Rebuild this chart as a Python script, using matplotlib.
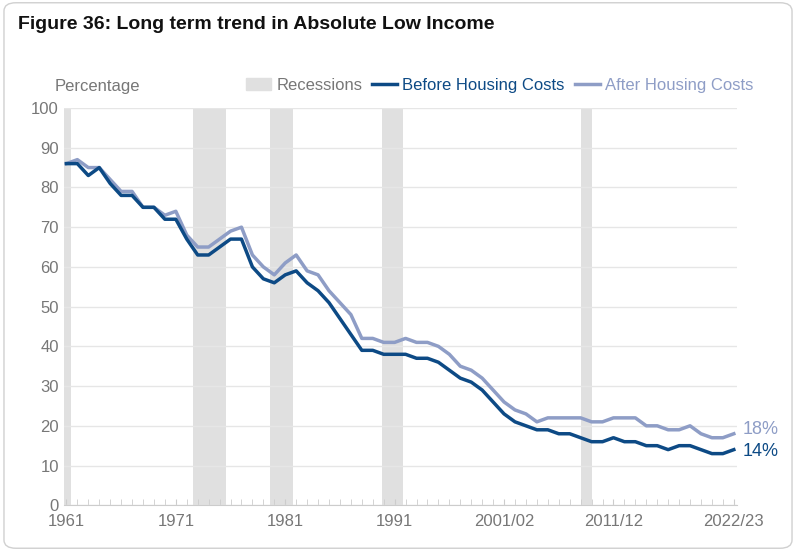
import matplotlib
matplotlib.use("Agg")
import matplotlib.pyplot as plt
from matplotlib.patches import Patch, FancyBboxPatch
from matplotlib.lines import Line2D

plt.rcParams['font.family'] = ['Liberation Sans', 'DejaVu Sans']

bhc = [86,86,83,85,81,78,78,75,75,72,
       72,67,63,63,65,67,67,60,57,56,
       58,59,56,54,51,47,43,39,39,38,
       38,38,37,37,36,34,32,31,29,26,
       23,21,20,19,19,18,18,17,16,16,
       17,16,16,15,15,14,15,15,14,13,
       13,14]
ahc = [86,87,85,85,82,79,79,75,75,73,
       74,68,65,65,67,69,70,63,60,58,
       61,63,59,58,54,51,48,42,42,41,
       41,42,41,41,40,38,35,34,32,29,
       26,24,23,21,22,22,22,22,21,21,
       22,22,22,20,20,19,19,20,18,17,
       17,18]
tick_labels = ["1961","1971","1981","1991","2001/02","2011/12","2022/23"]
tick_pos = [0,10,20,30,40,50,61]
recessions = [(-0.2,0.4),(11.6,14.6),(18.6,20.7),(28.8,30.8),(47.0,48.0)]

BHC_C = "#0d4a85"
AHC_C = "#8e9dc6"
GREY = "#777777"

fig = plt.figure(figsize=(7.96,5.51), dpi=100)
frame = FancyBboxPatch((0.005,0.005),0.99,0.99, boxstyle="round,pad=0,rounding_size=0.015",
                       transform=fig.transFigure, fc="white", ec="#d0d0d0", lw=1, zorder=-10)
fig.patches.append(frame)
ax = fig.add_axes([0.08,0.083,0.846,0.721])
ax.set_facecolor("none")
x = list(range(len(bhc)))
for a,b in recessions:
    ax.axvspan(a,b,color="#e0e0e0",lw=0,zorder=0)
ax.plot(x, ahc, color=AHC_C, lw=2.5, zorder=3)
ax.plot(x, bhc, color=BHC_C, lw=2.5, zorder=4)
ax.set_xlim(-0.25, 61.3)
ax.set_ylim(0,100)
ax.set_yticks(range(0,101,10))
ax.grid(axis="y", color="#e6e6e6", lw=1)
ax.set_axisbelow(True)
ax.set_xticks(tick_pos)
ax.set_xticklabels(tick_labels)
ax.set_xticks(x, minor=True)
ax.tick_params(axis="both", colors=GREY, labelsize=12, length=0)
ax.tick_params(axis="x", which="both", length=4, color="#cccccc", direction="in", pad=6)
for s in ["top","right","left"]:
    ax.spines[s].set_visible(False)
ax.spines["bottom"].set_color("#cccccc")
ax.text(61.8, ahc[-1]+1, f"{ahc[-1]}%", color=AHC_C, fontsize=13, va="center")
ax.text(61.8, bhc[-1]-0.5, f"{bhc[-1]}%", color=BHC_C, fontsize=13, va="center")

fig.text(0.022, 0.955, "Figure 36: Long term trend in Absolute Low Income", fontsize=14,
         fontweight="bold", color="#111111", va="center")
fig.text(0.068, 0.843, "Percentage", fontsize=12, color=GREY, va="center")
handles = [Patch(color="#e0e0e0"), Line2D([],[],color=BHC_C,lw=2.5), Line2D([],[],color=AHC_C,lw=2.5)]
leg = fig.legend(handles, ["Recessions","Before Housing Costs","After Housing Costs"], loc="center right",
                 bbox_to_anchor=(0.965,0.845), ncol=3, frameon=False, fontsize=12,
                 handlelength=1.5, columnspacing=0.6, handletextpad=0.3)
for t,c in zip(leg.get_texts(), [GREY, BHC_C, AHC_C]):
    t.set_color(c)
fig.savefig("out.png", dpi=100)
